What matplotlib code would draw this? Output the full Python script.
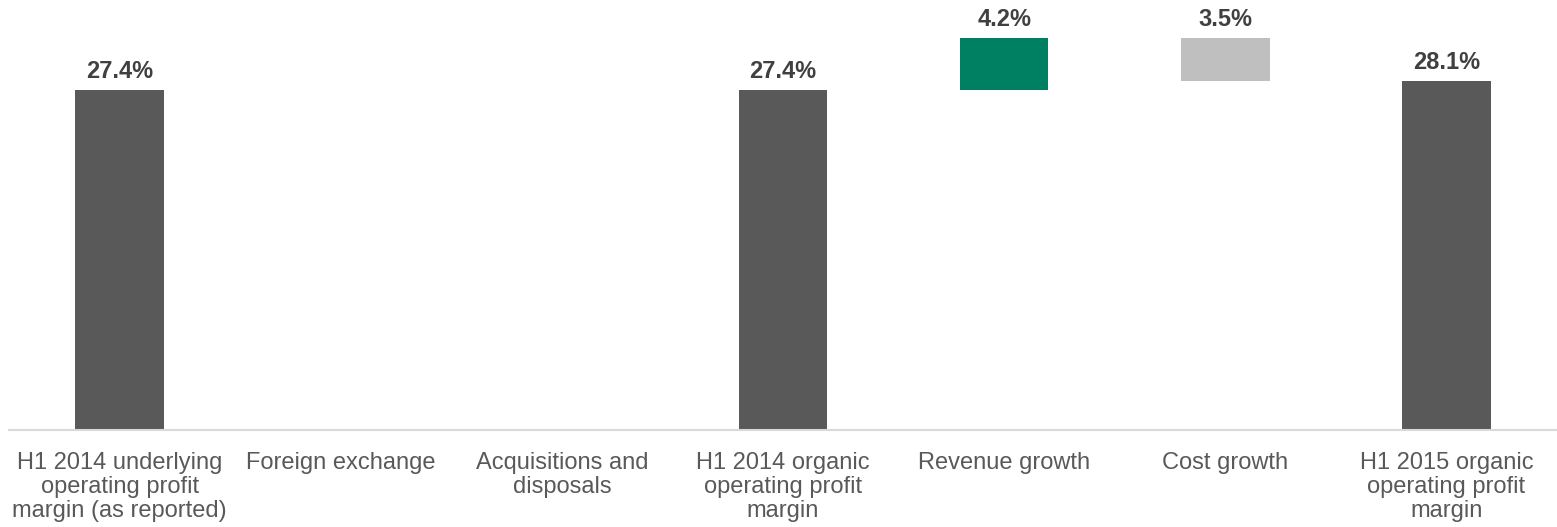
import matplotlib
matplotlib.use("Agg")
import matplotlib.pyplot as plt

# Margin bridge: H1 2014 reported -> H1 2015 organic
categories = [
    "H1 2014 underlying\noperating profit\nmargin (as reported)",
    "Foreign exchange",
    "Acquisitions and\ndisposals",
    "H1 2014 organic\noperating profit\nmargin",
    "Revenue growth",
    "Cost growth",
    "H1 2015 organic\noperating profit\nmargin",
]
# 'total' bars stand on the axis; 'step' bars float as changes
kinds = ["total", "step", "step", "total", "step", "step", "total"]
values = [27.4, 0.0, 0.0, 27.4, 4.2, -3.5, 28.1]
labels = ["27.4%", "", "", "27.4%", "4.2%", "3.5%", "28.1%"]
colors = ["#595959", "#595959", "#595959", "#595959", "#008062", "#bfbfbf", "#595959"]

plt.rcParams["font.family"] = ["Liberation Sans", "DejaVu Sans"]

fig = plt.figure(figsize=(15.57, 5.27), dpi=100)
ax = fig.add_axes([9 / 1557, 97 / 527, 1 - 9 / 1557, 430 / 527])

running = 0.0
for i, (kind, v) in enumerate(zip(kinds, values)):
    if kind == "total":
        bottom, height = 0.0, v
        running = v
    else:
        if v >= 0:
            bottom, height = running, v
        else:
            bottom, height = running + v, -v
        running += v
    if height > 0:
        ax.bar(i, height, bottom=bottom, width=0.4, color=colors[i], zorder=2)
    if labels[i]:
        ax.annotate(labels[i], (i, bottom + height), xytext=(0, 8.6),
                    textcoords="offset points", ha="center", va="baseline",
                    fontsize=17, fontweight="bold", color="#404040")

ax.set_xlim(-0.5, 6.5)
ax.set_ylim(0, 34.65)
ax.set_xticks(range(len(categories)))
ax.set_xticklabels(categories, fontsize=17, color="#595959", linespacing=1.12)
ax.tick_params(axis="x", length=0, pad=15.5)
ax.set_yticks([])
for s in ["top", "right", "left"]:
    ax.spines[s].set_visible(False)
ax.spines["bottom"].set_color("#d9d9d9")
ax.spines["bottom"].set_linewidth(1.5)

fig.savefig("out.png", dpi=100)
